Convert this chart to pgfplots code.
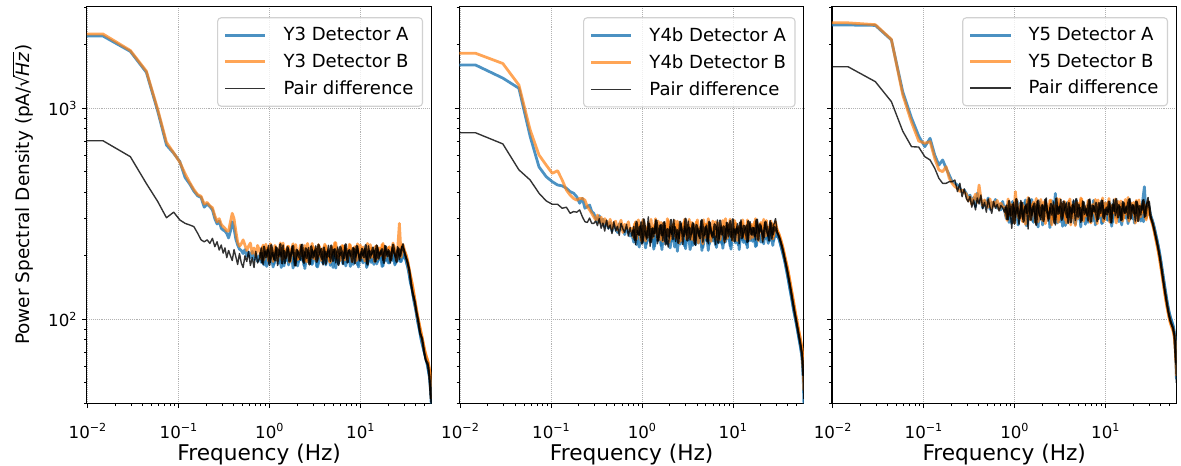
\documentclass[border=0pt]{standalone}
\usepackage{fontspec}
\setmainfont{DejaVu Sans}
\usepackage{pgfplots}
\usepackage{pgfplotstable}
\pgfplotsset{compat=1.18}
\definecolor{cA}{HTML}{1F77B4}
\definecolor{cB}{HTML}{FF7F0E}

% ---------- Y3 ----------
\pgfplotstableread{
f A B D
0.00977 2200 2250 702
0.01465 2200 2250 702
0.0293 1860 1880 590
0.0440 1480 1500 440
0.0586 970 990 362
0.0732 670 690 303
0.0879 612 615 322
0.1025 560 556 296
0.1172 470 490 285
0.1318 438 445 280
0.1465 405 412 275
0.1611 385 390 256
0.1758 378 383 238
0.1904 340 352 233
0.2051 352 358 238
0.2197 342 345 229
0.2344 330 338 242
0.2490 300 310 221
0.2637 283 290 233
0.2783 292 300 213
0.2930 270 282 225
0.3076 265 275 206
0.322 262 270 218
0.337 255 262 196
0.353 243 262 212
0.370 262 290 200
0.387 290 318 190
0.405 270 300 214
0.424 240 262 198
0.444 225 232 182
0.465 215 222 205
0.487 212 228 185
0.510 205 238 176
0.534 214 225 200
0.559 200 212 188
0.585 208 222 210
0.613 196 230 180
0.642 210 205 196
0.672 192 218 176
0.703 204 200 210
0.736 188 224 185
0.771 201 212 195
0.807 186 194 218
0.845 208 225 182
0.885 192 200 210
0.927 178 218 200
0.970 204 189 224
1.016 195 228 186
1.064 211 206 207
1.114 183 197 192
1.166 199 221 221
1.221 190 190 180
1.279 207 214 213
1.339 176 203 198
1.402 197 230 225
1.468 188 195 184
1.537 213 210 205
1.610 181 222 216
1.685 202 188 189
1.765 194 216 222
1.848 185 201 196
1.935 209 226 179
2.026 179 192 212
2.121 198 208 202
2.221 191 219 226
2.326 205 196 187
2.435 174 224 209
2.550 200 187 194
2.670 187 213 219
2.796 210 205 183
2.928 182 229 214
3.065 196 193 200
3.210 203 217 223
3.361 177 200 190
3.519 193 222 206
3.685 206 190 217
3.858 184 211 181
4.040 199 227 211
4.230 189 198 197
4.430 212 209 224
4.638 180 186 188
4.857 195 220 203
5.085 202 204 215
5.325 175 231 185
5.576 208 195 220
5.838 190 214 199
6.113 197 199 208
6.401 183 223 182
6.703 204 191 225
7.018 186 212 193
7.349 211 206 212
7.695 178 225 204
8.058 199 188 186
8.437 192 216 218
8.835 206 202 197
9.251 181 228 222
9.687 194 194 189
10.14 200 210 210
10.62 185 220 201
11.12 209 189 216
11.65 176 215 184
12.19 203 205 223
12.77 190 226 195
13.37 198 197 207
14.00 182 212 213
14.66 207 222 187
15.35 188 193 220
16.07 196 218 199
16.83 201 203 211
17.62 179 229 190
18.45 210 196 224
19.32 193 210 202
20.23 185 219 214
21.19 204 190 185
22.18 190 214 219
23.23 199 224 206
24.32 184 201 196
25.47 208 211 221
26.67 195 285 192
27.92 188 197 215
29.24 202 226 228
30.62 200 210 205
32.06 185 198 192
33.57 172 180 178
35.15 150 162 158
36.81 140 148 138
38.54 122 132 128
40.36 112 116 112
42.26 98 104 102
44.25 90 94 89
46.33 80 86 84
48.52 74 78 76
50.80 68 71 67
53.20 64 66 62
55.70 57 62 60
58.33 50 54 48
60.0 38 42 36
}\tabYthree
\pgfplotstableread{
f A B D
0.789 190 201 208
0.826 205 220 186
0.865 181 192 221
0.906 198 227 197
0.948 209 206 214
0.993 186 195 181
1.040 200 218 225
1.089 177 188 203
1.140 193 224 190
1.193 212 209 218
1.249 184 199 199
1.309 196 230 227
1.370 203 191 184
1.435 179 215 211
1.502 207 204 195
1.573 191 222 220
1.647 186 187 188
1.724 210 213 206
1.806 175 228 223
1.891 198 198 180
1.980 204 210 214
2.073 188 193 201
2.170 195 225 192
2.273 211 202 226
2.380 180 217 185
2.492 201 190 217
2.609 192 229 209
2.732 206 207 182
2.861 183 196 222
2.996 197 221 196
3.136 209 212 212
3.285 178 189 187
3.439 194 226 226
3.601 202 200 204
3.771 187 215 193
3.948 213 194 219
4.134 181 223 183
4.329 199 205 210
4.533 190 188 198
4.746 205 219 224
4.970 176 211 189
5.203 208 231 215
5.449 196 197 202
5.706 184 208 181
5.974 203 190 221
6.255 192 224 207
6.550 210 203 195
6.859 179 216 227
7.181 199 193 186
7.520 187 227 213
7.874 206 199 200
8.246 182 213 218
8.634 195 221 184
9.041 211 190 223
9.467 177 209 205
9.913 201 225 190
10.38 189 196 216
10.87 204 212 197
11.38 193 202 225
11.92 180 229 182
12.47 207 194 211
13.07 186 218 203
13.68 198 207 219
14.33 212 188 188
15.00 183 223 224
15.71 194 210 194
16.44 205 200 208
17.22 178 226 215
18.03 200 192 185
18.88 190 214 222
19.77 209 205 199
20.70 185 221 210
21.68 197 197 191
22.70 203 230 226
23.77 181 208 204
24.89 206 191 187
26.06 192 216 217
27.29 188 203 200
28.57 210 224 221
29.92 196 212 212
31.33 193 204 198
32.81 178 190 186
34.35 162 170 170
35.97 145 155 146
37.67 131 140 130
39.44 117 124 121
41.30 105 110 107
43.24 94 99 97
45.28 85 90 85
47.41 77 82 81
49.65 71 74 71
51.98 66 68 64
54.44 60 64 62
57.00 54 58 54
59.20 44 48 42
}\tabYthreex

% ---------- Y4b ----------
\pgfplotstableread{
f A B D
0.00977 1604 1823 766
0.01465 1604 1823 766
0.0293 1390 1630 678
0.0440 1244 1289 511
0.0586 734 789 457
0.0732 528 601 396
0.0879 474 538 364
0.1025 449 492 351
0.1172 433 506 351
0.1318 429 457 336
0.1465 418 410 340
0.1611 403 388 318
0.1758 396 374 324
0.1904 381 367 322
0.2051 355 374 330
0.2197 374 374 306
0.2344 336 367 290
0.2490 342 342 288
0.2637 348 330 302
0.2783 324 318 285
0.2930 318 306 285
0.3076 302 296 292
0.322 290 312 278
0.337 310 288 300
0.353 285 305 270
0.370 298 282 286
0.387 276 300 262
0.405 292 290 295
0.424 270 276 268
0.444 288 298 280
0.465 262 268 255
0.487 280 286 290
0.510 272 292 262
0.534 258 265 276
0.559 284 280 250
0.585 266 295 285
0.613 275 258 268
0.642 252 282 258
0.672 270 270 282
0.703 262 290 248
0.736 248 262 272
0.771 255 270 248
0.807 232 244 276
0.845 268 290 226
0.885 241 252 264
0.927 220 280 250
0.970 262 236 290
1.016 247 296 232
1.064 276 260 262
1.114 228 246 240
1.166 252 285 306
1.221 238 238 222
1.279 270 272 270
1.339 215 256 246
1.402 250 300 296
1.468 236 242 228
1.537 280 266 258
1.610 224 288 282
1.685 258 234 236
1.765 244 278 290
1.848 230 254 244
1.935 266 294 220
2.026 218 240 272
2.121 249 262 252
2.221 237 284 298
2.326 262 246 234
2.435 210 292 266
2.550 254 230 242
2.670 233 270 286
2.796 272 258 226
2.928 222 298 276
3.065 246 240 250
3.210 259 280 292
3.361 214 252 238
3.519 240 288 260
3.685 264 236 284
3.858 226 266 224
4.040 251 296 270
4.230 235 248 246
4.430 274 264 294
4.638 219 228 232
4.857 243 284 256
5.085 257 256 280
5.325 212 300 228
5.576 268 244 288
5.838 238 272 248
6.113 250 250 262
6.401 225 290 226
6.703 263 238 296
7.018 232 268 240
7.349 276 260 274
7.695 217 294 254
8.058 252 234 230
8.437 240 278 288
8.835 266 254 246
9.251 223 298 294
9.687 246 242 236
10.14 255 266 270
10.62 230 286 252
11.12 270 236 284
11.65 214 276 228
12.19 261 258 296
12.77 238 296 244
13.37 251 246 264
14.00 226 270 280
14.66 268 290 234
15.35 236 240 290
16.07 249 282 250
16.83 258 256 272
17.62 221 300 238
18.45 275 246 298
19.32 244 268 256
20.23 232 288 278
21.19 264 238 232
22.18 240 276 288
23.23 256 294 262
24.32 229 252 246
25.47 272 270 294
26.67 248 284 240
27.92 236 248 280
29.24 262 290 300
30.62 250 262 258
32.06 240 252 246
33.57 222 236 230
35.15 206 220 214
36.81 190 200 194
38.54 172 184 178
40.36 155 168 160
42.26 138 150 144
44.25 124 134 128
46.33 110 120 114
48.52 100 106 103
50.80 90 96 92
53.20 80 86 82
55.70 72 78 74
58.33 62 68 64
60.0 40 46 42
}\tabYfour
\pgfplotstableread{
f A B D
0.789 240 258 266
0.826 262 284 238
0.865 226 240 290
0.906 255 296 252
0.948 270 266 276
0.993 231 248 228
1.040 248 290 298
1.089 218 235 260
1.140 259 274 244
1.193 236 260 284
1.249 274 298 232
1.309 245 244 270
1.370 222 280 256
1.435 266 254 294
1.502 239 292 236
1.573 252 238 278
1.647 214 270 250
1.724 261 286 288
1.806 243 250 226
1.891 229 300 268
1.980 269 232 246
2.073 234 276 296
2.170 256 262 240
2.273 220 294 274
2.380 247 242 258
2.492 265 282 230
2.609 227 256 290
2.732 241 236 264
2.861 273 288 248
2.996 216 268 300
3.136 258 246 236
3.285 237 298 272
3.439 250 239 254
3.601 224 278 286
3.771 267 264 228
3.948 244 290 280
4.134 230 230 262
4.329 260 272 242
4.533 212 252 296
4.746 253 296 250
4.970 239 244 274
5.203 271 284 234
5.449 226 260 290
5.706 248 234 258
5.974 235 292 244
6.255 263 270 282
6.550 219 248 268
6.859 257 286 230
7.181 242 238 294
7.520 228 276 252
7.874 268 258 276
8.246 233 300 240
8.634 254 242 286
9.041 246 280 260
9.467 215 266 246
9.913 262 236 298
10.38 237 294 234
10.87 250 254 270
11.38 225 272 256
11.92 270 246 288
12.47 241 288 242
13.07 231 262 278
13.68 259 240 264
14.33 218 296 232
14.66 264 256 292
15.71 245 278 254
16.44 234 244 272
17.22 255 290 248
18.03 223 266 296
18.88 266 236 238
19.77 239 284 282
20.70 250 258 260
21.68 228 298 244
22.70 272 248 290
23.77 243 274 266
24.89 235 262 236
26.06 258 292 286
27.29 224 240 252
28.57 261 282 274
29.92 247 270 262
31.33 246 258 252
32.81 231 244 238
34.35 214 228 222
35.97 198 210 204
37.67 181 192 186
39.44 163 176 169
41.30 146 159 152
43.24 131 142 136
45.28 117 127 121
47.41 105 113 108
49.65 95 101 97
51.98 85 91 87
54.44 76 82 78
57.00 67 73 69
59.20 52 58 54
}\tabYfourx

% ---------- Y5 ----------
\pgfplotstableread{
f A B D
0.00977 2480 2540 1574
0.01465 2480 2540 1574
0.0293 2470 2490 1337
0.0440 2108 2120 1075
0.0586 1200 1160 780
0.0732 900 860 658
0.0879 739 700 655
0.1025 658 683 590
0.1172 721 695 569
0.1318 601 579 520
0.1465 538 510 466
0.1611 569 501 441
0.1758 520 529 441
0.1904 483 466 449
0.2051 449 441 449
0.2197 441 425 457
0.2344 433 418 403
0.2490 418 403 441
0.2637 403 410 381
0.2783 410 400 415
0.2930 395 392 374
0.3076 372 365 360
0.322 388 380 382
0.337 355 350 340
0.353 378 372 368
0.370 342 392 330
0.387 396 358 376
0.405 360 433 352
0.424 372 376 388
0.444 338 345 334
0.465 365 368 358
0.487 348 352 322
0.510 376 340 372
0.534 332 372 340
0.559 358 336 318
0.585 344 360 362
0.613 370 346 336
0.642 336 366 350
0.672 352 332 326
0.703 330 355 346
0.736 362 342 338
0.771 330 340 322
0.807 300 306 348
0.845 345 372 296
0.885 312 318 336
0.927 285 350 270
0.970 352 296 358
1.016 320 403 304
1.064 364 326 340
1.114 292 300 282
1.166 336 356 366
1.221 306 290 300
1.279 358 342 330
1.339 278 316 352
1.402 328 378 268
1.468 302 298 372
1.537 370 334 310
1.610 288 360 344
1.685 340 288 286
1.765 316 348 362
1.848 296 312 318
1.935 348 370 296
2.026 280 294 350
2.121 326 330 326
2.221 310 354 376
2.326 342 302 292
2.435 272 366 338
2.550 334 280 312
2.670 298 340 360
2.796 395 320 280
2.928 286 374 346
3.065 318 296 322
3.210 338 352 370
3.361 276 310 300
3.519 308 362 334
3.685 350 286 356
3.858 290 330 284
4.040 330 372 342
4.230 304 304 316
4.430 362 336 368
4.638 282 278 294
4.857 314 358 328
5.085 340 318 352
5.325 274 376 288
5.576 356 298 364
5.838 302 344 314
6.113 326 308 336
6.401 288 366 292
6.703 346 290 372
7.018 298 338 306
7.349 366 322 346
7.695 280 370 324
8.058 332 284 290
8.437 312 350 358
8.835 352 314 318
9.251 286 376 366
9.687 318 296 298
10.14 336 334 340
10.62 294 360 322
11.12 358 288 354
11.65 276 346 286
12.19 344 320 370
12.77 306 372 310
13.37 328 300 334
14.00 290 340 350
14.66 354 364 294
15.35 300 292 362
16.07 322 352 318
16.83 338 316 344
17.62 284 378 300
18.45 360 298 374
19.32 314 332 326
20.23 298 358 348
21.19 348 286 292
22.18 308 344 360
23.23 334 368 332
24.32 292 306 312
25.47 362 336 366
26.67 425 350 304
27.92 302 296 346
29.24 340 364 378
30.62 318 310 314
32.06 300 292 296
33.57 282 272 276
35.15 258 246 252
36.81 236 224 230
38.54 214 202 208
40.36 190 178 184
42.26 166 156 160
44.25 146 136 140
46.33 128 120 124
48.52 114 108 110
50.80 104 98 100
53.20 98 92 94
55.70 92 88 90
58.33 80 76 78
60.0 52 54 50
}\tabYfive
\pgfplotstableread{
f A B D
0.789 310 330 340
0.826 346 294 298
0.865 288 362 364
0.906 328 310 312
0.948 362 348 350
0.993 296 286 284
1.040 338 370 372
1.089 280 320 326
1.140 354 300 302
1.193 318 356 358
1.249 300 340 290
1.309 368 282 344
1.370 284 366 318
1.435 332 314 376
1.502 350 296 296
1.573 292 352 336
1.647 342 328 354
1.724 312 374 280
1.806 274 290 366
1.891 360 344 310
1.980 324 306 346
2.073 296 360 292
2.170 348 284 370
2.273 306 336 322
2.380 336 318 300
2.492 282 368 352
2.609 364 298 338
2.732 316 346 286
2.861 298 324 374
2.996 352 288 316
3.136 290 372 342
3.285 330 310 296
3.439 344 354 362
3.601 278 296 328
3.771 358 338 304
3.948 320 364 356
4.134 304 280 288
4.329 340 348 348
4.533 286 316 320
4.746 366 358 372
4.970 312 300 306
5.203 296 342 338
5.449 354 372 294
5.706 326 292 360
5.974 282 334 330
6.255 346 312 312
6.550 308 362 368
6.859 336 286 290
7.181 292 350 346
7.520 360 326 324
7.874 318 298 356
8.246 300 368 298
8.634 350 308 340
9.041 284 340 366
9.467 334 290 302
9.913 356 356 332
10.38 296 320 314
10.87 328 374 362
11.38 342 296 288
11.92 288 344 350
12.47 364 330 326
13.07 310 286 372
13.68 322 362 304
14.33 348 314 342
15.00 280 348 296
15.71 338 300 358
16.44 302 370 320
17.22 356 322 336
18.03 294 292 370
18.88 330 356 300
19.77 346 336 348
20.70 286 310 316
21.68 360 366 362
22.70 314 294 292
23.77 300 344 344
24.89 352 320 330
26.06 290 358 368
27.29 338 302 308
28.57 320 340 352
29.92 344 326 360
31.33 308 300 304
32.81 291 282 286
34.35 270 259 264
35.97 247 235 241
37.67 225 213 219
39.44 202 190 196
41.30 178 167 172
43.24 156 146 150
45.28 137 128 132
47.41 121 114 117
49.65 109 103 105
51.98 101 95 97
54.44 95 90 92
57.00 86 82 84
59.20 66 64 62
}\tabYfivex

\tikzset{
  lineA/.style={color=cA, opacity=0.8, line width=2pt, line join=round},
  lineB/.style={color=cB, opacity=0.7, line width=2pt, line join=round},
  lineD/.style={color=black, opacity=0.8, line width=1pt, line join=round},
  lineDx/.style={color=black, opacity=0.8, line width=1.6pt, line join=round},
}

\pgfplotsset{
  every axis/.append style={
    xmode=log, ymode=log,
    scale only axis, width=248pt, height=285.6pt,
    xmin=0.00977, xmax=60, ymin=40, ymax=3030,
    xtick={0.01,0.1,1,10},
    xticklabels={10\textsuperscript{−2},10\textsuperscript{−1},10\textsuperscript{0},10\textsuperscript{1}},
    minor xtick={0.02,0.03,0.04,0.05,0.06,0.07,0.08,0.09,0.2,0.3,0.4,0.5,0.6,0.7,0.8,0.9,2,3,4,5,6,7,8,9,20,30,40,50},
    ytick={100,1000},
    minor ytick={40,50,60,70,80,90,200,300,400,500,600,700,800,900,2000,3000},
    tick align=outside, tick pos=left,
    major tick length=3.5pt, minor tick length=2pt,
    major tick style={line width=0.8pt, black},
    minor tick style={line width=0.6pt, black},
    axis line style={line width=0.8pt},
    grid=major,
    major grid style={densely dotted, black!30, line width=0.8pt},
    tick label style={font=\fontsize{12}{14}\selectfont},
    xticklabel style={anchor=base, yshift=-21.5pt},
    xlabel={Frequency (Hz)},
    xlabel style={font=\fontsize{15.6}{18}\selectfont, at={(axis description cs:0.5,0)}, anchor=base, yshift=-40.8pt},
    legend cell align=left,
    legend style={
      at={(1,1)}, anchor=north east, xshift=-6pt, yshift=-7.6pt,
      draw=black!18, line width=0.8pt, rounded corners=2.5pt,
      fill=white, fill opacity=0.8, text opacity=1,
      font=\fontsize{13}{15}\selectfont,
      inner xsep=4.5pt, inner ysep=5pt, row sep=4pt, column sep=10pt,
    },
    legend image post style={xscale=1.693},
  },
}

\begin{document}
\begin{tikzpicture}
\useasboundingbox (-62.6pt,-44.4pt) rectangle (787.7pt,290.4pt);
\begin{axis}[at={(0pt,0pt)},
  yticklabels={10\textsuperscript{2},10\textsuperscript{3}},
  ylabel={Power Spectral Density (pA/√\kern-0.06em$\overline{\hbox{\textit{Hz}\kern0.05em}}$)},
  ylabel style={font=\fontsize{13.3}{16}\selectfont, inner sep=0pt, at={(axis description cs:-0.186,0.526)}, anchor=center}]
\addplot[lineA] table[x=f, y=A] {\tabYthree};
\addlegendentry{Y3 Detector A}
\addplot[lineA, forget plot] table[x=f, y=A] {\tabYthreex};
\addplot[lineB] table[x=f, y=B] {\tabYthree};
\addlegendentry{Y3 Detector B}
\addplot[lineB, forget plot] table[x=f, y=B] {\tabYthreex};
\addplot[lineD] table[x=f, y=D] {\tabYthree};
\addlegendentry{Pair difference}
\addplot[lineDx, forget plot] table[x=f, y=D] {\tabYthreex};
\end{axis}
\begin{axis}[at={(268.2pt,0pt)}, yticklabels={}]
\addplot[lineA] table[x=f, y=A] {\tabYfour};
\addlegendentry{Y4b Detector A}
\addplot[lineA, forget plot] table[x=f, y=A] {\tabYfourx};
\addplot[lineB] table[x=f, y=B] {\tabYfour};
\addlegendentry{Y4b Detector B}
\addplot[lineB, forget plot] table[x=f, y=B] {\tabYfourx};
\addplot[lineD] table[x=f, y=D] {\tabYfour};
\addlegendentry{Pair difference}
\addplot[lineDx, forget plot] table[x=f, y=D] {\tabYfourx};
\end{axis}
\begin{axis}[at={(536.4pt,0pt)}, yticklabels={}]
\addplot[lineA] table[x=f, y=A] {\tabYfive};
\addlegendentry{Y5 Detector A}
\addplot[lineA, forget plot] table[x=f, y=A] {\tabYfivex};
\addplot[lineB] table[x=f, y=B] {\tabYfive};
\addlegendentry{Y5 Detector B}
\addplot[lineB, forget plot] table[x=f, y=B] {\tabYfivex};
\addplot[lineD] table[x=f, y=D] {\tabYfive};
\addlegendentry{Pair difference}
\addplot[lineDx, forget plot] table[x=f, y=D] {\tabYfivex};
\end{axis}
\end{tikzpicture}
\end{document}
